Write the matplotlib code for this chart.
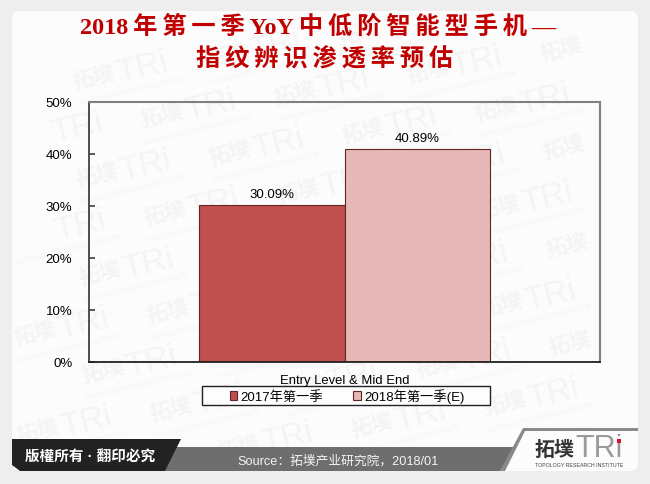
import matplotlib
matplotlib.use('Agg')
import matplotlib.pyplot as plt
from matplotlib.patches import Polygon, FancyBboxPatch, Rectangle
import numpy as np

categories = ['Entry Level & Mid End']
series_names = ['2017年第一季', '2018年第一季(E)']
series_values = [30.09, 40.89]
series_colors = ['#c0504d', '#e6b8b7']
yticks = [0, 10, 20, 30, 40, 50]
title_lines = ['2018年第一季YoY中低阶智能型手机—', '指纹辨识渗透率预估']
title_x = [318, 325]
title_y = [27, 60]
source_text = 'Source：拓墣产业研究院，2018/01'
copyright_text = '版權所有 · 翻印必究'

sans = ['Liberation Sans', 'Noto Sans CJK SC', 'DejaVu Sans']
serif = ['Liberation Serif', 'Noto Sans CJK SC', 'DejaVu Sans']
plt.rcParams['font.family'] = sans

W, H = 650, 485
fig = plt.figure(figsize=(6.5, 4.85), dpi=100, facecolor='#eeeeee')

# background layer in pixel coords
bg = fig.add_axes([0, 0, 1, 1], zorder=0)
bg.set_xlim(0, W)
bg.set_ylim(H, 0)
bg.axis('off')
bg.add_patch(FancyBboxPatch((18, 18), 614, 448, boxstyle='round,pad=6,rounding_size=8', fc='#fcfcfc', ec='none', zorder=0))


def mark(x, y, s, w, h, **kw):
    # only keep watermark pieces that stay inside the card
    c, sn = np.cos(np.radians(14)), np.sin(np.radians(14))
    if x < 14 or x + w * c > 636 or y - w * sn - h / 2 < 14 or y + h / 2 > 470:
        return
    bg.text(x, y, s, rotation=14, rotation_mode='anchor', va='center', ha='left', zorder=0.5, **kw)


# watermark lattice
for i in range(-6, 8):
    for j in range(-2, 10):
        x = 77 + i * 133 + j * 68
        y = 183 - i * 22 + j * 38
        mark(x, y, '拓墣', 42, 24, fontsize=15.5, fontweight='bold', color='#f4f4f4')
        mark(x + 43, y - 10, 'TRi', 55, 28, fontsize=24, color='#f4f4f4')
        mark(x + 3, y + 21, 'TOPOLOGY RESEARCH INSTITUTE', 108, 8, fontsize=4.7, color='#f4f4f4')

# footer
bg.add_patch(Polygon([[523, 430], [638, 430], [638, 466], [632, 472], [500, 472]], fc='#fcfcfc', ec='none', zorder=1.5))
bg.add_patch(Polygon([[165, 448], [515, 448], [500, 472], [165, 472]], fc='#6e6e6e', ec='none', zorder=2))
bg.add_patch(Polygon([[12, 440], [181, 440], [165, 472], [20, 472], [12, 466]], fc='#222222', ec='none', zorder=2))
bg.add_patch(Polygon([[523, 429], [638, 429], [638, 432], [525, 432], [505, 472], [500, 472]], fc='#8a8a8a', ec='none', zorder=2))
bg.text(90, 457, copyright_text, color='white', fontsize=10.5, fontweight='bold', ha='center', va='center', zorder=3)
bg.text(338, 461, source_text, color='#f4f4f4', fontsize=9.2, ha='center', va='center', zorder=3)
bg.text(535, 450, '拓墣', color='#333333', fontsize=14.4, fontweight='bold', ha='left', va='center', zorder=3)
bg.text(575, 449, 'TRi', color='#9a9a9a', fontsize=22, ha='left', va='center', zorder=3)
bg.add_patch(Rectangle((617, 440), 4, 4, fc='#e01020', ec='none', zorder=4))
bg.text(535, 466, 'TOPOLOGY RESEARCH INSTITUTE', color='#444444', fontsize=3.8, ha='left', va='center', zorder=3)

# title
for line, tx, ty in zip(title_lines, title_x, title_y):
    spaced = line.replace('2018', '\0').replace('YoY', '\1')
    spaced = '\u2009'.join(spaced).replace('\0', '2018').replace('\1', 'YoY')
    bg.text(tx, ty, spaced, color='#c00000', fontsize=17.5, fontweight='bold', family=serif,
            ha='center', va='center', zorder=3)

# legend frame
bg.add_patch(Rectangle((202, 387), 288, 19, fc='#fdfdfd', ec='#202020', lw=1, zorder=1))

# chart
ax = fig.add_axes([89 / W, 1 - 362.5 / H, 511 / W, 260 / H], zorder=1)
ax.patch.set_alpha(0)
width = 0.285
offsets = [-width / 2, width / 2]
for name, val, col, off in zip(series_names, series_values, series_colors, offsets):
    ax.bar(off, val, width, color=col, edgecolor='#632523', linewidth=0.8, label=name)
    ax.text(off, val + 0.9, '%.2f%%' % val, ha='center', va='bottom', fontsize=9.5, color='black')
ax.set_xlim(-0.5, 0.5)
ax.set_ylim(0, 50)
ax.set_yticks(yticks)
ax.set_yticklabels(['%d%%' % v for v in yticks], fontsize=9.5)
ax.set_xticks([0])
ax.set_xticklabels(categories, fontsize=9.4)
ax.tick_params(axis='y', direction='in', length=4, width=1.2, color='#404040', pad=12)
ax.tick_params(axis='x', length=0, pad=9)
ax.spines['left'].set_color('#404040')
ax.spines['left'].set_linewidth(1.3)
ax.spines['bottom'].set_color('#202020')
ax.spines['bottom'].set_linewidth(1.3)
ax.spines['top'].set_color('#808080')
ax.spines['top'].set_linewidth(1.5)
ax.spines['right'].set_color('#808080')
ax.spines['right'].set_linewidth(1.5)

fig.legend(loc='center', bbox_to_anchor=(347 / W, 1 - 396.5 / H), ncol=2, fontsize=9.5, frameon=False,
           handlelength=0.55, handleheight=0.7, handletextpad=0.25, columnspacing=2.3, borderpad=0, borderaxespad=0)

fig.savefig('out.png', dpi=100, facecolor=fig.get_facecolor())
